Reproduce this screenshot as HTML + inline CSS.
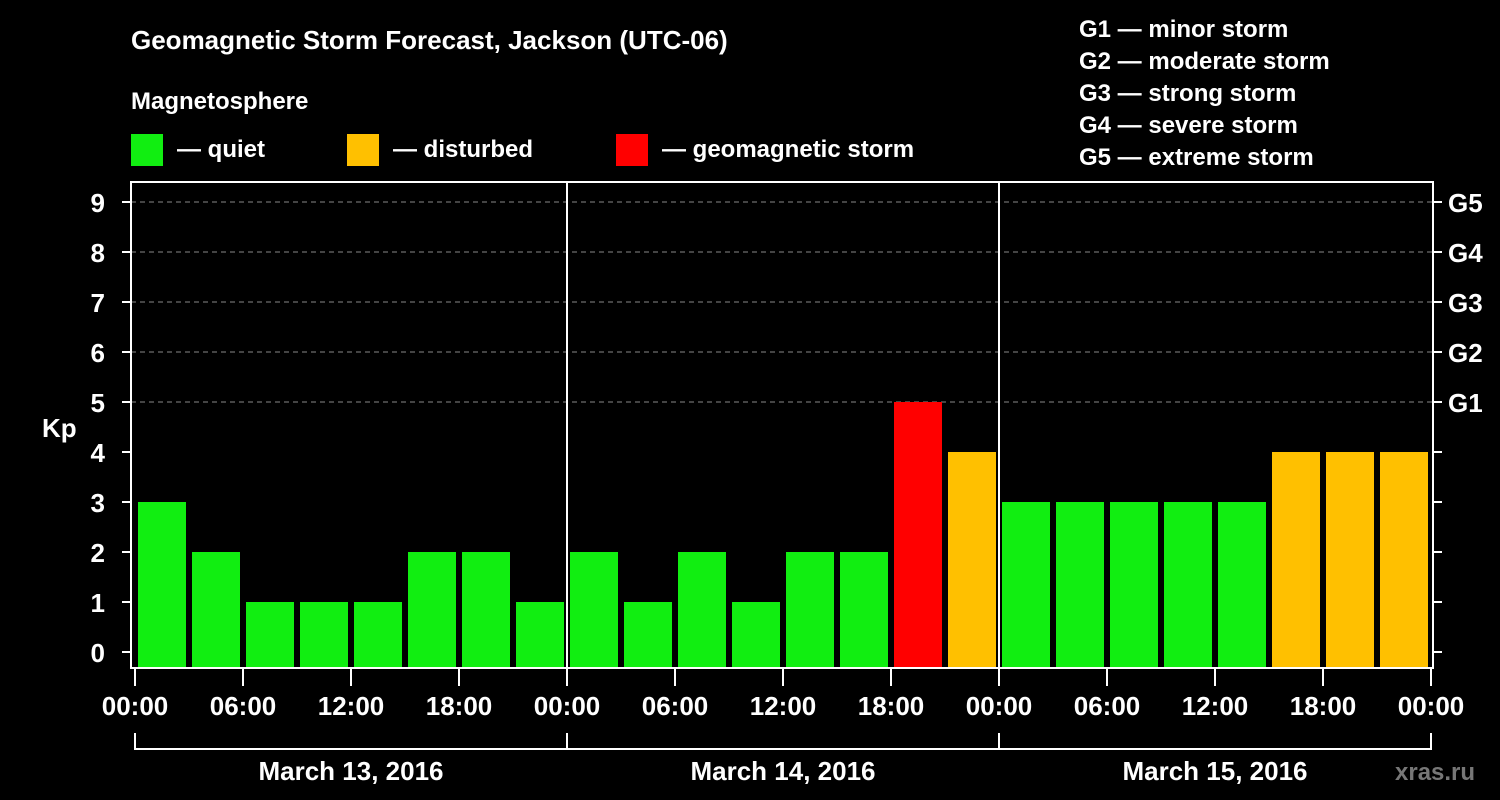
<!DOCTYPE html>
<html><head><meta charset="utf-8"><style>
html,body{margin:0;padding:0;background:#000;width:1500px;height:800px;overflow:hidden}
svg text{font-family:"Liberation Sans",Arial,sans-serif;font-weight:bold;fill:#fff}
</style></head><body>
<svg id="chart" width="1500" height="800" xmlns="http://www.w3.org/2000/svg">
<text x="131" y="49" font-size="26">Geomagnetic Storm Forecast, Jackson (UTC-06)</text>
<text x="131" y="109" font-size="24">Magnetosphere</text>
<g><rect x="131" y="134" width="32" height="32" fill="#11ee11"/><text x="177" y="157" font-size="24">— quiet</text></g>
<g><rect x="347" y="134" width="32" height="32" fill="#ffc000"/><text x="393" y="157" font-size="24">— disturbed</text></g>
<g><rect x="616" y="134" width="32" height="32" fill="#ff0000"/><text x="662" y="157" font-size="24">— geomagnetic storm</text></g>
<g font-size="24">
<text x="1079" y="37">G1 — minor storm</text>
<text x="1079" y="69">G2 — moderate storm</text>
<text x="1079" y="101">G3 — strong storm</text>
<text x="1079" y="133">G4 — severe storm</text>
<text x="1079" y="165">G5 — extreme storm</text>
</g>
<text x="42" y="437" font-size="26">Kp</text>
<text x="1395" y="780" font-size="24" style="fill:#777">xras.ru</text>
<g id="grid"></g><g id="bars"></g><g id="axes"></g>
</svg>
<script>
const kpValues=[3,2,1,1,1,2,2,1, 2,1,2,1,2,2,5,4, 3,3,3,3,3,4,4,4];
const yTicks=[0,1,2,3,4,5,6,7,8,9];
const gLabels=["G1","G2","G3","G4","G5"];
const xTickLabels=["00:00","06:00","12:00","18:00"];
const dayLabels=["March 13, 2016","March 14, 2016","March 15, 2016"];
const NS="http://www.w3.org/2000/svg";
const L=131,R=1433,T=182,B=668,X0=135,DAY=432;
const y=v=>652-v*50;
const x=i=>X0+i*DAY/8;
function mk(tag,attrs,parent,txt){const e=document.createElementNS(NS,tag);for(const k in attrs)e.setAttribute(k,attrs[k]);if(txt!==undefined)e.textContent=txt;parent.appendChild(e);return e;}
const grid=document.getElementById('grid'),bars=document.getElementById('bars'),axes=document.getElementById('axes');
yTicks.forEach(v=>{
  if(v>=5){const g=mk('line',{x1:L,x2:R,y1:y(v),y2:y(v),stroke:'#888','stroke-dasharray':'5,4','stroke-width':1},grid);
  
  }
  const t=mk('line',{x1:L-9,x2:L,y1:y(v),y2:y(v),stroke:'#fff','stroke-width':2},axes);
  
  
  const t2=mk('line',{x1:R,x2:R+9,y1:y(v),y2:y(v),stroke:'#fff','stroke-width':2},axes);
  
  
  const lb=mk('text',{x:105,y:y(v)+10,'font-size':26,'text-anchor':'end'},axes,String(v));
  
  
});
gLabels.forEach((g,i)=>{
  const lb=mk('text',{x:1448,y:y(5+i)+10,'font-size':26},axes,g);
  
  
});
kpValues.forEach((v,i)=>{
  const c=v>=5?'#ff0000':v>=4?'#ffc000':'#11ee11';
  const r=mk('rect',{x:x(i)+3,y:y(v),width:48,height:B-y(v),fill:c},bars);
  
  
});
const fr=mk('rect',{x:L,y:T,width:R-L,height:B-T,fill:'none',stroke:'#fff','stroke-width':2},axes);


for(let d=0;d<=3;d++){
  if(d>0&&d<3){const s=mk('line',{x1:X0+d*DAY,x2:X0+d*DAY,y1:T,y2:B,stroke:'#fff','stroke-width':2},axes);
  
  }
}
for(let i=0;i<=12;i++){
  const xx=X0+i*DAY/4;
  const t=mk('line',{x1:xx,x2:xx,y1:B,y2:686,stroke:'#fff','stroke-width':2},axes);
  
  
  const lb=mk('text',{x:xx,y:715,'font-size':26,'text-anchor':'middle'},axes,xTickLabels[i%4]);
  
  
}
const br=mk('line',{x1:X0,x2:X0+3*DAY,y1:749,y2:749,stroke:'#fff','stroke-width':2},axes);


for(let d=0;d<=3;d++){
  const v=mk('line',{x1:X0+d*DAY,x2:X0+d*DAY,y1:733,y2:750,stroke:'#fff','stroke-width':2},axes);
  
  
}
dayLabels.forEach((s,d)=>{
  const lb=mk('text',{x:X0+d*DAY+DAY/2,y:780,'font-size':26,'text-anchor':'middle'},axes,s);
  
  
});
</script>
</body></html>
